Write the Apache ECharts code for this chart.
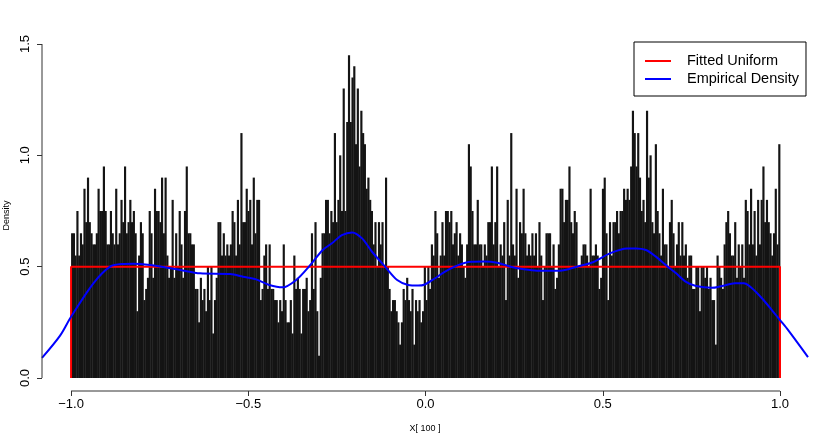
<!DOCTYPE html>
<html><head><meta charset="utf-8">
<script src="https://cdn.jsdelivr.net/npm/echarts@6/dist/echarts.min.js"></script>
<style>html,body{margin:0;padding:0;background:#fff}#c{width:830px;height:444px}</style>
</head><body><div id="c"></div>
<script>
// histogram: bins spanning binRange, heights (density)
const binRange = [-1, 1];
const binDensity = [
  0.65,0.65,0.55,0.75,0.55,0.65,0.6,0.85,0.7,0.9,
  0.7,0.65,0.6,0.6,0.65,0.85,0.75,0.75,0.95,0.75,
  0.6,0.6,0.75,0.65,0.6,0.85,0.6,0.65,0.8,0.7,
  0.95,0.65,0.7,0.8,0.7,0.75,0.65,0.3,0.55,0.7,
  0.65,0.35,0.4,0.45,0.75,0.65,0.45,0.85,0.75,0.75,
  0.7,0.9,0.65,0.9,0.55,0.45,0.5,0.8,0.45,0.65,
  0.5,0.75,
  0.6,0.45,0.75,0.95,0.65,0.65,0.6,0.6,0.4,0.4,
  0.25,0.45,0.35,0.4,0.3,0.5,0.35,0.5,0.2,0.35,
  0.45,0.7,0.7,0.55,0.65,0.55,0.6,0.55,0.6,0.75,
  0.7,0.55,0.8,0.6,1.1,0.7,0.7,0.85,0.75,0.8,
  0.6,0.9,0.65,0.8,
  0.8,0.35,0.4,0.55,0.6,0.4,0.6,0.4,0.4,0.35,
  0.35,0.25,0.35,0.3,0.6,0.35,0.25,0.25,0.35,0.2,
  0.55,0.4,0.45,0.4,0.2,0.4,0.4,0.45,0.3,0.35,
  0.65,0.4,0.7,0.3,0.1,0.45,0.65,0.65,0.8,0.8,
  0.65,0.75,0.7,
  1.1,0.7,0.8,1.0,0.75,1.3,0.75,1.15,1.45,1.15,
  1.35,1.4,1.05,1.3,0.95,1.2,1.1,1.05,0.85,0.9,
  0.8,0.75,0.6,0.7,0.5,0.7,0.6,0.7,0.5,0.9,
  0.5,0.4,0.3,0.35,0.35,0.3,0.25,0.15,0.25,0.4,
  0.35,0.45,0.35,
  0.3,0.4,0.15,0.35,0.3,0.35,0.25,0.3,0.5,0.35,
  0.5,0.4,0.6,0.55,0.75,0.65,0.45,0.55,0.7,0.55,
  0.75,0.75,0.7,0.75,0.6,0.65,0.7,0.55,0.65,0.6,
  0.5,0.45,0.6,1.05,0.95,0.75,0.6,0.6,0.8,0.6,
  0.6,0.5,0.6,
  0.55,0.7,0.7,0.95,0.6,0.7,0.95,0.5,0.6,0.55,
  0.7,0.35,0.8,0.55,1.1,0.6,0.55,0.85,0.45,0.7,
  0.65,0.85,0.65,0.55,0.6,0.55,0.65,0.55,0.65,0.5,
  0.7,0.55,0.35,0.5,0.65,0.65,0.65,0.5,0.6,0.4,
  0.45,0.6,0.85,
  0.85,0.7,0.8,0.8,0.95,0.7,0.65,0.75,0.7,0.5,
  0.5,0.55,0.6,0.6,0.55,0.5,0.85,0.55,0.55,0.6,
  0.55,0.4,0.45,0.85,0.9,0.65,0.35,0.7,0.55,0.7,
  0.7,0.75,0.65,0.75,0.75,0.85,0.8,0.85,0.8,0.95,
  1.2,1.1,0.95,
  1.1,0.9,0.75,0.8,0.7,1.2,0.9,1.0,0.7,0.65,
  1.05,0.75,0.65,0.55,0.85,0.6,0.6,0.5,0.7,0.8,
  0.65,0.5,0.6,0.7,0.55,0.7,0.55,0.6,0.45,0.55,
  0.55,0.4,0.4,0.5,0.5,0.3,0.5,0.5,0.45,0.5,
  0.4,0.45,0.35,
  0.35,0.15,0.55,0.5,0.45,0.4,0.6,0.7,0.75,0.65,
  0.55,0.55,0.7,0.45,0.6,0.5,0.6,0.45,0.8,0.75,
  0.6,0.85,0.6,0.75,0.55,0.8,0.6,0.8,0.95,0.7,
  0.8,0.7,0.65,0.55,0.65,0.85,0.6,1.05
];

// fitted uniform
const uniformSupport = [-1, 1];
const uniformHeight = 0.5;

// empirical density curve
const densityX = [-1.082,-1.031,-1.0,-0.937,-0.89,-0.857,-0.825,-0.777,-0.692,-0.636,
  -0.551,-0.515,-0.478,-0.441,-0.403,-0.365,-0.329,-0.29,-0.264,-0.236,
  -0.207,-0.179,-0.151,-0.114,-0.08,-0.049,-0.021,-0.002,0.026,0.054,
  0.092,0.128,0.165,0.202,0.24,0.278,0.315,0.379,0.427,0.472,
  0.52,0.568,0.594,0.622,0.65,0.678,0.707,0.735,0.763,0.808,
  0.836,0.873,0.898,0.921,0.949,0.977,1.0,1.023,1.079];
const densityY = [0.09,0.19,0.275,0.425,0.50,0.512,0.513,0.507,0.485,0.47,
  0.467,0.455,0.443,0.418,0.407,0.44,0.50,0.575,0.605,0.642,
  0.654,0.627,0.567,0.50,0.44,0.418,0.415,0.42,0.447,0.477,
  0.507,0.522,0.523,0.518,0.50,0.488,0.482,0.482,0.50,0.52,
  0.56,0.582,0.582,0.575,0.545,0.507,0.47,0.432,0.413,0.405,
  0.413,0.425,0.425,0.403,0.358,0.305,0.26,0.215,0.094];

// axes
const xTickValues = [-1, -0.5, 0, 0.5, 1];
const xTickLabels = ['\u22121.0', '\u22120.5', '0.0', '0.5', '1.0'];
const yTickValues = [0, 0.5, 1, 1.5];
const yTickLabels = ['0.0', '0.5', '1.0', '1.5'];
const xRange = [-1.082, 1.079];
const yRange = [-0.0584, 1.518];
const seriesNames = ['Fitted Uniform', 'Empirical Density'];

const FONT = "'Liberation Sans', Arial, Helvetica, sans-serif";
const binWidth = (binRange[1] - binRange[0]) / binDensity.length;
const histData = binDensity.map((v, i) => [binRange[0] + i * binWidth, binRange[0] + (i + 1) * binWidth, v]);
const uniformData = [[uniformSupport[0], 0], [uniformSupport[0], uniformHeight], [uniformSupport[1], uniformHeight], [uniformSupport[1], 0]];
const densityData = densityX.map((x, i) => [x, densityY[i]]);

const chart = echarts.init(document.getElementById('c'), null, {renderer: 'canvas'});
chart.setOption({
  animation: false,
  backgroundColor: '#fff',
  grid: {left: 42, right: 22, top: 40, bottom: 53, containLabel: false, outerBoundsMode: 'none'},
  xAxis: {
    type: 'value', min: xRange[0], max: xRange[1],
    axisLine: {show: false, onZero: false}, splitLine: {show: false},
    axisTick: {show: true, customValues: xTickValues, length: 5, lineStyle: {color: '#333'}},
    axisLabel: {show: true, customValues: xTickValues, margin: 7, fontFamily: FONT, fontSize: 13, color: '#000',
      formatter: v => xTickLabels[xTickValues.findIndex(t => Math.abs(t - v) < 1e-9)]},
    name: 'X[ 100 ]', nameLocation: 'middle', nameGap: 33,
    nameTextStyle: {fontFamily: FONT, fontSize: 9, color: '#000'}
  },
  yAxis: {
    type: 'value', min: yRange[0], max: yRange[1],
    axisLine: {show: false, onZero: false}, splitLine: {show: false},
    axisTick: {show: true, customValues: yTickValues, length: 5, lineStyle: {color: '#333'}},
    axisLabel: {show: true, customValues: yTickValues, rotate: 90, margin: 10, fontFamily: FONT, fontSize: 13, color: '#000',
      formatter: v => yTickLabels[yTickValues.findIndex(t => Math.abs(t - v) < 1e-9)]},
    name: 'Density', nameLocation: 'middle', nameGap: 30,
    nameTextStyle: {fontFamily: FONT, fontSize: 9, color: '#000'}
  },
  legend: {
    data: seriesNames, orient: 'vertical', left: 634, top: 42,
    icon: 'rect', itemWidth: 26, itemHeight: 2, itemGap: 2,
    padding: [11, 7, 9, 11],
    borderColor: '#000', borderWidth: 1, borderRadius: 0,
    textStyle: {fontFamily: FONT, fontSize: 14.5, color: '#000', lineHeight: 16, padding: [0, 0, 0, 11]},
    selectedMode: false
  },
  series: [
    {
      type: 'custom', name: 'hist', silent: true, clip: true,
      data: histData, encode: {x: [0, 1], y: 2},
      renderItem: (params, api) => {
        const p0 = api.coord([api.value(0), 0]);
        const p1 = api.coord([api.value(1), api.value(2)]);
        return {type: 'rect', shape: {x: p0[0], y: p1[1], width: p1[0] - p0[0] + 0.4, height: p0[1] - p1[1]},
          style: {fill: '#141414'}};
      }
    },
    {
      type: 'line', name: seriesNames[0], data: uniformData, color: '#ff0000',
      showSymbol: false, symbol: 'none', lineStyle: {width: 2, color: '#ff0000'}, silent: true, z: 3
    },
    {
      type: 'line', name: seriesNames[1], data: densityData, color: '#0000ff', smooth: 0.3,
      showSymbol: false, symbol: 'none', lineStyle: {width: 2, color: '#0000ff'}, silent: true, z: 4
    },
    {
      type: 'line', name: 'xaxisline', silent: true, clip: false, symbol: 'none',
      data: [[xTickValues[0], yRange[0]], [xTickValues[xTickValues.length - 1], yRange[0]]],
      lineStyle: {width: 1, color: '#333'}, z: 5
    },
    {
      type: 'line', name: 'yaxisline', silent: true, clip: false, symbol: 'none',
      data: [[xRange[0], yTickValues[0]], [xRange[0], yTickValues[yTickValues.length - 1]]],
      lineStyle: {width: 1, color: '#333'}, z: 5
    }
  ]
});
</script></body></html>
